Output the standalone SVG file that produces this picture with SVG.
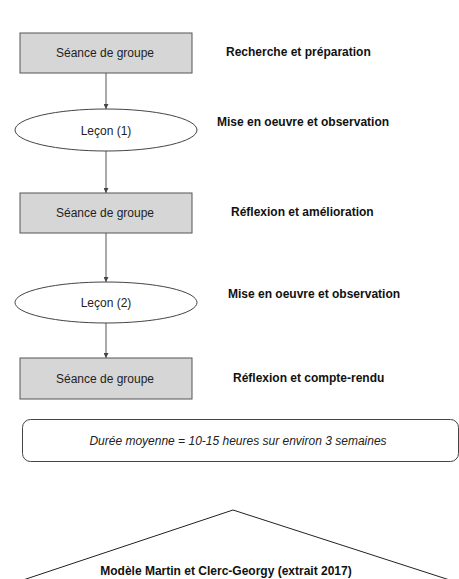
<svg xmlns="http://www.w3.org/2000/svg" width="459" height="579" viewBox="0 0 459 579">
<defs>
<style>
.box{fill:#d6d6d6;stroke:#555;stroke-width:1}
.ell{fill:#fff;stroke:#444;stroke-width:1}
.t{font-family:"Liberation Sans",Arial,sans-serif;font-size:12px;fill:#222;text-anchor:middle}
.lab{font-family:"Liberation Sans",Arial,sans-serif;font-size:12px;font-weight:bold;fill:#111}
.it{font-family:"Liberation Sans",Arial,sans-serif;font-size:12px;font-style:italic;fill:#222;text-anchor:middle}
.conn{stroke:#555;stroke-width:1;fill:none;marker-end:url(#ah)}
</style>
<marker id="ah" viewBox="0 0 10 10" refX="10" refY="5" markerWidth="5" markerHeight="5" markerUnits="userSpaceOnUse" orient="auto">
<path d="M0,0 L10,5 L0,10 z" fill="#444"/>
</marker>
</defs>
<rect width="459" height="579" fill="#fff"/>
<g id="connectors">
<line class="conn" x1="106" y1="73" x2="106" y2="109"/>
<line class="conn" x1="106" y1="150" x2="106" y2="193"/>
<line class="conn" x1="106" y1="233" x2="106" y2="282"/>
<line class="conn" x1="106" y1="323" x2="106" y2="358"/>
</g>
<g id="seance1">
<rect class="box" x="20" y="33" width="172" height="40"/>
<text class="t" x="105" y="57">Séance de groupe</text>
</g>
<g id="lecon1">
<ellipse class="ell" cx="106" cy="130" rx="91" ry="21"/>
<text class="t" x="106" y="135">Leçon (1)</text>
</g>
<g id="seance2">
<rect class="box" x="20" y="193" width="172" height="40"/>
<text class="t" x="105" y="217">Séance de groupe</text>
</g>
<g id="lecon2">
<ellipse class="ell" cx="106" cy="302.5" rx="91" ry="20.5"/>
<text class="t" x="106" y="307">Leçon (2)</text>
</g>
<g id="seance3">
<rect class="box" x="20" y="358" width="172" height="41"/>
<text class="t" x="105" y="383">Séance de groupe</text>
</g>
<g id="labels">
<text class="lab" x="226" y="56">Recherche et préparation</text>
<text class="lab" x="217" y="126">Mise en oeuvre et observation</text>
<text class="lab" x="231" y="216">Réflexion et amélioration</text>
<text class="lab" x="228" y="298">Mise en oeuvre et observation</text>
<text class="lab" x="233" y="382">Réflexion et compte-rendu</text>
</g>
<g id="duree">
<rect x="22.5" y="419.5" width="436" height="42" rx="8" ry="8" fill="#fff" stroke="#444" stroke-width="1"/>
<text class="it" x="238" y="445">Durée moyenne = 10-15 heures sur environ 3 semaines</text>
</g>
<g id="modele">
<polyline points="20,581 233,510 459,583" fill="none" stroke="#222" stroke-width="1"/>
<text class="lab" x="226" y="575" text-anchor="middle">Modèle Martin et Clerc-Georgy (extrait 2017)</text>
</g>
</svg>
